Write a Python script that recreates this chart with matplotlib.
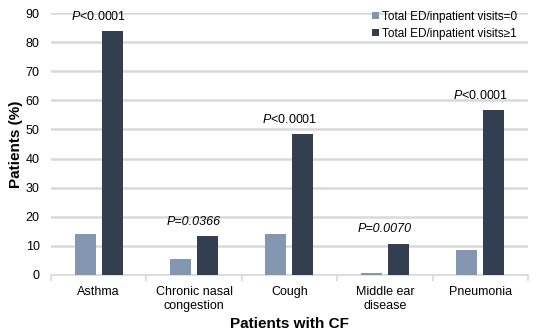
import matplotlib
matplotlib.use("Agg")
import matplotlib.pyplot as plt
import numpy as np

categories = ["Asthma", "Chronic nasal\ncongestion", "Cough", "Middle ear\ndisease", "Pneumonia"]
visits0 = [14.2, 5.5, 14.2, 0.7, 8.5]
visits1 = [83.8, 13.3, 48.4, 10.7, 56.6]
pvals = [r"$P$<0.0001", r"$P$=0.0366", r"$P$<0.0001", r"$P$=0.0070", r"$P$<0.0001"]
pital = [False, True, False, True, False]
series_labels = ["Total ED/inpatient visits=0", "Total ED/inpatient visits≥1"]

plt.rcParams['font.family'] = ['Liberation Sans', 'DejaVu Sans']
plt.rcParams['mathtext.fontset'] = 'custom'
plt.rcParams['mathtext.it'] = 'Liberation Sans:italic'
plt.rcParams['mathtext.rm'] = 'Liberation Sans'

fig = plt.figure(figsize=(5.36, 3.34), dpi=100)
ax = fig.add_axes([0.095, 0.177, 0.89, 0.784])

x = np.arange(len(categories))
w = 0.22
off = 0.142
c0 = "#8497b0"
c1 = "#333f50"
ax.bar(x - off, visits0, w, color=c0, label=series_labels[0], zorder=3)
ax.bar(x + off, visits1, w, color=c1, label=series_labels[1], zorder=3)

for i, (v, t, it) in enumerate(zip(visits1, pvals, pital)):
    if it:
        t = t.replace(r"$P$", "P")
        ax.annotate(t, (x[i], v), xytext=(0, 6), textcoords="offset points",
                    ha="center", va="bottom", fontsize=9, style="italic")
    else:
        ax.annotate(t, (x[i], v), xytext=(0, 6), textcoords="offset points",
                    ha="center", va="bottom", fontsize=9)

ax.set_ylim(0, 90)
ax.set_xlim(-0.5, len(categories) - 0.5)
ax.set_yticks(np.arange(0, 91, 10))
ax.yaxis.grid(True, color="#d9d9d9", linewidth=1.8, zorder=0)
ax.set_axisbelow(True)
for s in ["top", "right", "left"]:
    ax.spines[s].set_visible(False)
ax.spines["bottom"].set_color("#d9d9d9")
ax.spines["bottom"].set_linewidth(1.2)
ax.set_xticks(x)
ax.set_xticklabels(categories, fontsize=9)
ax.set_xticks(np.arange(-0.5, len(categories), 1), minor=True)
ax.tick_params(axis="x", which="major", length=0, pad=8)
ax.tick_params(axis="x", which="minor", length=4, color="#d9d9d9", width=1.2)
ax.tick_params(axis="y", length=0, labelsize=9, pad=8)

ax.set_ylabel("Patients (%)", fontsize=11, fontweight="bold", labelpad=2)
ax.set_xlabel("Patients with CF", fontsize=11, fontweight="bold", labelpad=4)

ax.legend(loc="upper right", bbox_to_anchor=(1.0, 1.05), frameon=False, fontsize=8.5,
          handlelength=0.6, handleheight=0.6, handletextpad=0.3, labelspacing=0.45)

fig.savefig("out.png", dpi=100)
